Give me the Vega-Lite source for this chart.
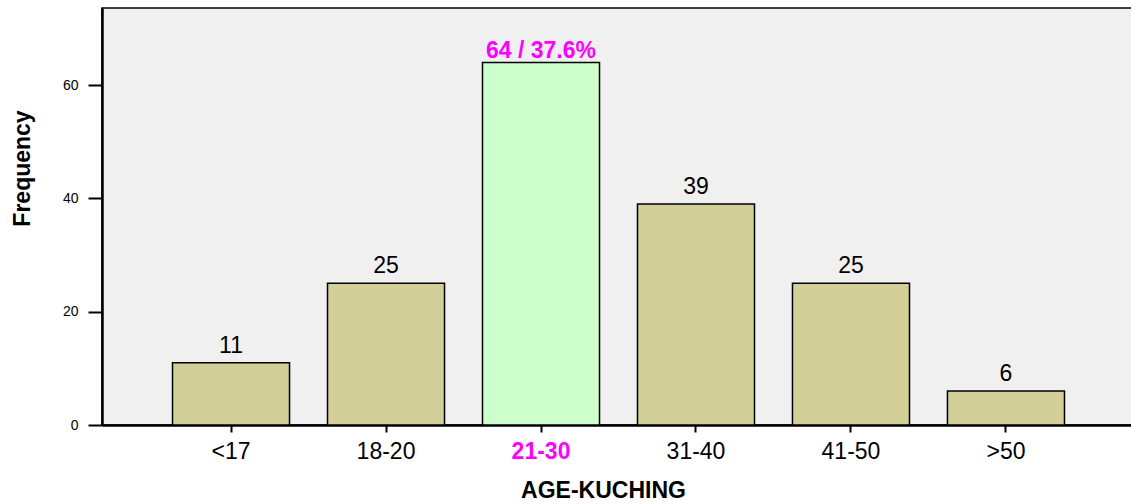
{
  "$schema": "https://vega.github.io/schema/vega-lite/v6.json",
  "width": 1033,
  "height": 417,
  "autosize": {"type": "none"},
  "padding": {"left": 102, "top": 8, "right": 0, "bottom": 79},
  "background": "white",
  "config": {
    "view": {"fill": "#f0f0f0", "stroke": "black", "strokeWidth": 1.5},
    "font": "Liberation Sans"
  },
  "data": {
    "values": [
      {"age": "<17", "count": 11, "label": "11", "hl": false},
      {"age": "18-20", "count": 25, "label": "25", "hl": false},
      {"age": "21-30", "count": 64, "label": "64 / 37.6%", "hl": true},
      {"age": "31-40", "count": 39, "label": "39", "hl": false},
      {"age": "41-50", "count": 25, "label": "25", "hl": false},
      {"age": ">50", "count": 6, "label": "6", "hl": false}
    ]
  },
  "encoding": {
    "x": {
      "field": "age", "type": "nominal", "sort": null,
      "scale": {"paddingInner": 0.245, "paddingOuter": 0.455},
      "axis": {
        "title": "AGE-KUCHING", "titleFont": "Liberation Sans", "titleFontSize": 23, "titleFontWeight": "bold",
        "titleColor": "black", "titleX": 501, "titleY": 65, "titleBaseline": "middle", "titleAlign": "center",
        "labelAngle": 0, "labelFontSize": 23, "labelColor": {"condition": {"test": "datum.value == '21-30'", "value": "#ff00ff"}, "value": "black"},
        "labelFontWeight": {"condition": {"test": "datum.value == '21-30'", "value": "bold"}, "value": "normal"},
        "labelPadding": 8, "tickSize": 7, "tickColor": "black", "tickWidth": 2,
        "domainColor": "black", "domainWidth": 2.5
      }
    },
    "y": {
      "field": "count", "type": "quantitative",
      "scale": {"domain": [0, 73.6], "nice": false},
      "axis": {
        "title": "Frequency", "titleFont": "Liberation Sans", "titleFontSize": 23, "titleFontWeight": "bold",
        "titleColor": "black", "titleX": -80, "titleY": 160, "titleAlign": "center", "titleBaseline": "middle", "titleAngle": -90,
        "values": [0, 20, 40, 60], "grid": false, "labelFontSize": 14, "labelColor": "black",
        "tickSize": 14, "tickColor": "black", "tickWidth": 2, "labelPadding": 10,
        "domainColor": "black", "domainWidth": 2.5
      }
    }
  },
  "layer": [
    {
      "mark": {"type": "bar", "stroke": "black", "strokeWidth": 1.5},
      "encoding": {
        "color": {"field": "hl", "type": "nominal", "scale": {"domain": [false, true], "range": ["#d3cf99", "#ccffcc"]}, "legend": null}
      }
    },
    {
      "transform": [{"filter": "!datum.hl"}],
      "mark": {"type": "text", "baseline": "alphabetic", "dy": -10, "fontSize": 23, "color": "black"},
      "encoding": {"text": {"field": "label"}}
    },
    {
      "transform": [{"filter": "datum.hl"}],
      "mark": {"type": "text", "baseline": "alphabetic", "dy": -4, "fontSize": 23, "fontWeight": "bold", "color": "#ff00ff"},
      "encoding": {"text": {"field": "label"}}
    }
  ]
}
